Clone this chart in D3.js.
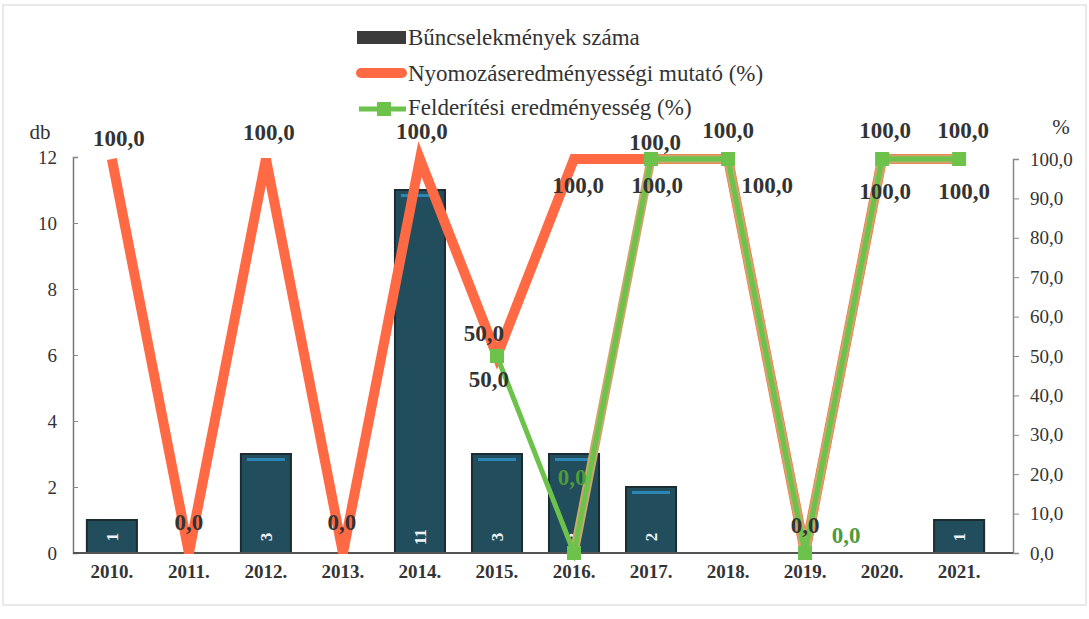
<!DOCTYPE html>
<html>
<head>
<meta charset="utf-8">
<script src="https://cdn.jsdelivr.net/npm/d3@7"></script>
<style>
  body { margin: 0; background: #fff; }
  text { font-family: "Liberation Serif", "Times New Roman", serif; fill: #333; }
</style>
</head>
<body>
<div id="mychart"></div>
<script>
// data
var years = ["2010.", "2011.", "2012.", "2013.", "2014.", "2015.", "2016.", "2017.", "2018.", "2019.", "2020.", "2021."];
var crimes = [1, 0, 3, 0, 11, 3, 3, 2, 0, 0, 0, 1];                           // Bűncselekmények száma (db)
var investigation = [100, 0, 100, 0, 100, 50, 100, 100, 100, 0, 100, 100];   // Nyomozáseredményességi mutató (%)
var detection = [null, null, null, null, null, 50, 0, 100, 100, 0, 100, 100]; // Felderítési eredményesség (%)
var leftTicks = [0, 2, 4, 6, 8, 10, 12];
var rightTicks = [0, 10, 20, 30, 40, 50, 60, 70, 80, 90, 100];

// label nudges [dx, dy] relative to the point (layout only)
var invLabelPos = [[7,-13],[0,-23],[3,-19],[-1,-23],[2,-20],[-13,-15],[4,34],[4,-9],[0,-21],[0,-20],[3,-21],[4,-21]];
var detLabelPos = [null,null,null,null,null,[-8,31],[-2,-68],[6,34],[39,34],[41,-10],[3,40],[5,40]];

var W = 1089, H = 619;
var plot = {left: 73, right: 1013, top: 157, bottom: 553};

var svg = d3.select("#mychart")
  .append("svg")
    .attr("width", W)
    .attr("height", H)
    .attr("font-family", "Liberation Serif, serif");

// faint scan frame
svg.append("rect")
  .attr("x", 3).attr("y", 5)
  .attr("width", W - 6).attr("height", 600)
  .attr("fill", "none")
  .attr("stroke", "#e2e2e2")
  .attr("stroke-width", 1.5);

var x = d3.scaleBand()
  .domain(years)
  .range([plot.left, 998])
  .paddingInner(0.35)
  .paddingOuter(0.18);

var yL = d3.scaleLinear().domain([0, 12]).range([plot.bottom, plot.top]);
var yR = d3.scaleLinear().domain([0, 100]).range([plot.bottom, 159]);

function cx(i) { return x(years[i]) + x.bandwidth() / 2; }
var fmt = function(v) { return d3.format(".1f")(v).replace(".", ","); };

// left axis
var gL = svg.append("g")
  .attr("transform", "translate(" + plot.left + ",0)")
  .call(d3.axisLeft(yL).tickValues(leftTicks).tickSize(-5).tickPadding(16).tickFormat(d3.format("d")))
  .attr("font-family", "Liberation Serif, serif");
gL.select(".domain").attr("stroke", "#777").attr("stroke-width", 1.5);
gL.selectAll(".tick line").attr("stroke", "#888");
gL.selectAll("text").style("font-size", "19px").attr("fill", "#333");

// right axis
var gR = svg.append("g")
  .attr("transform", "translate(" + plot.right + ",0)")
  .call(d3.axisRight(yR).tickValues(rightTicks).tickSize(6).tickPadding(11).tickFormat(fmt))
  .attr("font-family", "Liberation Serif, serif");
gR.select(".domain").attr("stroke", "#888").attr("stroke-width", 1.5);
gR.selectAll(".tick line").attr("stroke", "#888");
gR.selectAll("text").style("font-size", "19px").attr("fill", "#333");

// x axis
var gX = svg.append("g")
  .attr("transform", "translate(0," + plot.bottom + ")")
  .call(d3.axisBottom(x).tickSize(0).tickPadding(12))
  .attr("font-family", "Liberation Serif, serif");
gX.select(".domain").remove();
gX.selectAll("text").style("font-size", "19px").style("font-weight", "bold").attr("fill", "#333");

// axis titles
svg.append("text").attr("x", 40).attr("y", 139).attr("text-anchor", "middle")
  .style("font-size", "21px").text("db");
svg.append("text").attr("x", 1061).attr("y", 134).attr("text-anchor", "middle")
  .style("font-size", "21px").text("%");

// bars
var barData = crimes.map(function(v, i) { return {i: i, v: v}; })
  .filter(function(d) { return d.v > 0; });

var bars = svg.selectAll(".bar")
  .data(barData)
  .enter().append("g")
  .attr("class", "bar");

bars.append("rect")
  .attr("x", function(d) { return x(years[d.i]); })
  .attr("y", function(d) { return yL(d.v); })
  .attr("width", x.bandwidth())
  .attr("height", function(d) { return yL(0) - yL(d.v); })
  .attr("fill", "#214d5c")
  .attr("stroke", "#1b2c33")
  .attr("stroke-width", 2);

bars.filter(function(d) { return d.v > 1; }).append("rect")
  .attr("x", function(d) { return x(years[d.i]) + 6; })
  .attr("y", function(d) { return yL(d.v) + 4; })
  .attr("width", x.bandwidth() - 12)
  .attr("height", 3)
  .attr("fill", "#2c86b3");

bars.append("text")
  .attr("transform", function(d) { return "translate(" + cx(d.i) + ",537) rotate(-90)"; })
  .attr("text-anchor", "middle")
  .attr("dy", "0.35em")
  .style("font-size", "17px")
  .style("font-weight", "bold")
  .style("fill", "#eef3f5")
  .text(function(d) { return d.v; });

// baseline
svg.append("line")
  .attr("x1", plot.left).attr("x2", plot.right)
  .attr("y1", plot.bottom).attr("y2", plot.bottom)
  .attr("stroke", "#555").attr("stroke-width", 2);

// investigation line (orange)
var lineInv = d3.line()
  .x(function(d, i) { return cx(i); })
  .y(function(d) { return yR(d); });

svg.append("path")
  .datum(investigation)
  .attr("d", lineInv)
  .attr("fill", "none")
  .attr("stroke", "#ff6a45")
  .attr("stroke-width", 10);

// detection line (green)
var detPts = detection.map(function(v, i) { return {i: i, v: v}; })
  .filter(function(d) { return d.v !== null; });

var lineDet = d3.line()
  .x(function(d) { return cx(d.i); })
  .y(function(d) { return yR(d.v); });

svg.append("path")
  .datum(detPts.slice(1))
  .attr("d", lineDet)
  .attr("fill", "none")
  .attr("stroke", "#c9a86a")
  .attr("stroke-width", 9);

svg.append("path")
  .datum(detPts)
  .attr("d", lineDet)
  .attr("fill", "none")
  .attr("stroke", "#6cc24a")
  .attr("stroke-width", 5);

svg.selectAll(".mk")
  .data(detPts)
  .enter().append("rect")
  .attr("class", "mk")
  .attr("x", function(d) { return cx(d.i) - 7; })
  .attr("y", function(d) { return yR(d.v) - 7; })
  .attr("width", 14).attr("height", 14)
  .attr("fill", "#6cc24a");

// data labels
svg.selectAll(".lblInv")
  .data(investigation)
  .enter().append("text")
  .attr("class", "lblInv")
  .attr("x", function(d, i) { return cx(i) + invLabelPos[i][0]; })
  .attr("y", function(d, i) { return yR(d) + invLabelPos[i][1]; })
  .attr("text-anchor", "middle")
  .style("font-size", "23px")
  .style("font-weight", "bold")
  .text(fmt);

svg.selectAll(".lblDet")
  .data(detPts)
  .enter().append("text")
  .attr("class", "lblDet")
  .attr("x", function(d) { return cx(d.i) + detLabelPos[d.i][0]; })
  .attr("y", function(d) { return yR(d.v) + detLabelPos[d.i][1]; })
  .attr("text-anchor", "middle")
  .style("font-size", "23px")
  .style("font-weight", "bold")
  .style("fill", function(d) { return d.v === 0 ? "#4f9a3c" : "#333"; })
  .text(function(d) { return fmt(d.v); });

// legend
var lg = svg.append("g").attr("transform", "translate(357,0)");
lg.append("rect").attr("x", 0).attr("y", 31).attr("width", 49).attr("height", 13).attr("fill", "#3b3b3b");
lg.append("text").attr("x", 51).attr("y", 45).style("font-size", "23px").text("Bűncselekmények száma");

lg.append("line").attr("x1", 4).attr("x2", 45).attr("y1", 73).attr("y2", 73)
  .attr("stroke", "#ff6a45").attr("stroke-width", 10).attr("stroke-linecap", "round");
lg.append("text").attr("x", 51).attr("y", 81).style("font-size", "23px").text("Nyomozáseredményességi mutató (%)");

lg.append("line").attr("x1", 2).attr("x2", 49).attr("y1", 109).attr("y2", 109)
  .attr("stroke", "#6cc24a").attr("stroke-width", 5);
lg.append("rect").attr("x", 20).attr("y", 102).attr("width", 14).attr("height", 14).attr("fill", "#6cc24a");
lg.append("text").attr("x", 51).attr("y", 115).style("font-size", "23px").text("Felderítési eredményesség (%)");
</script>
</body>
</html>
